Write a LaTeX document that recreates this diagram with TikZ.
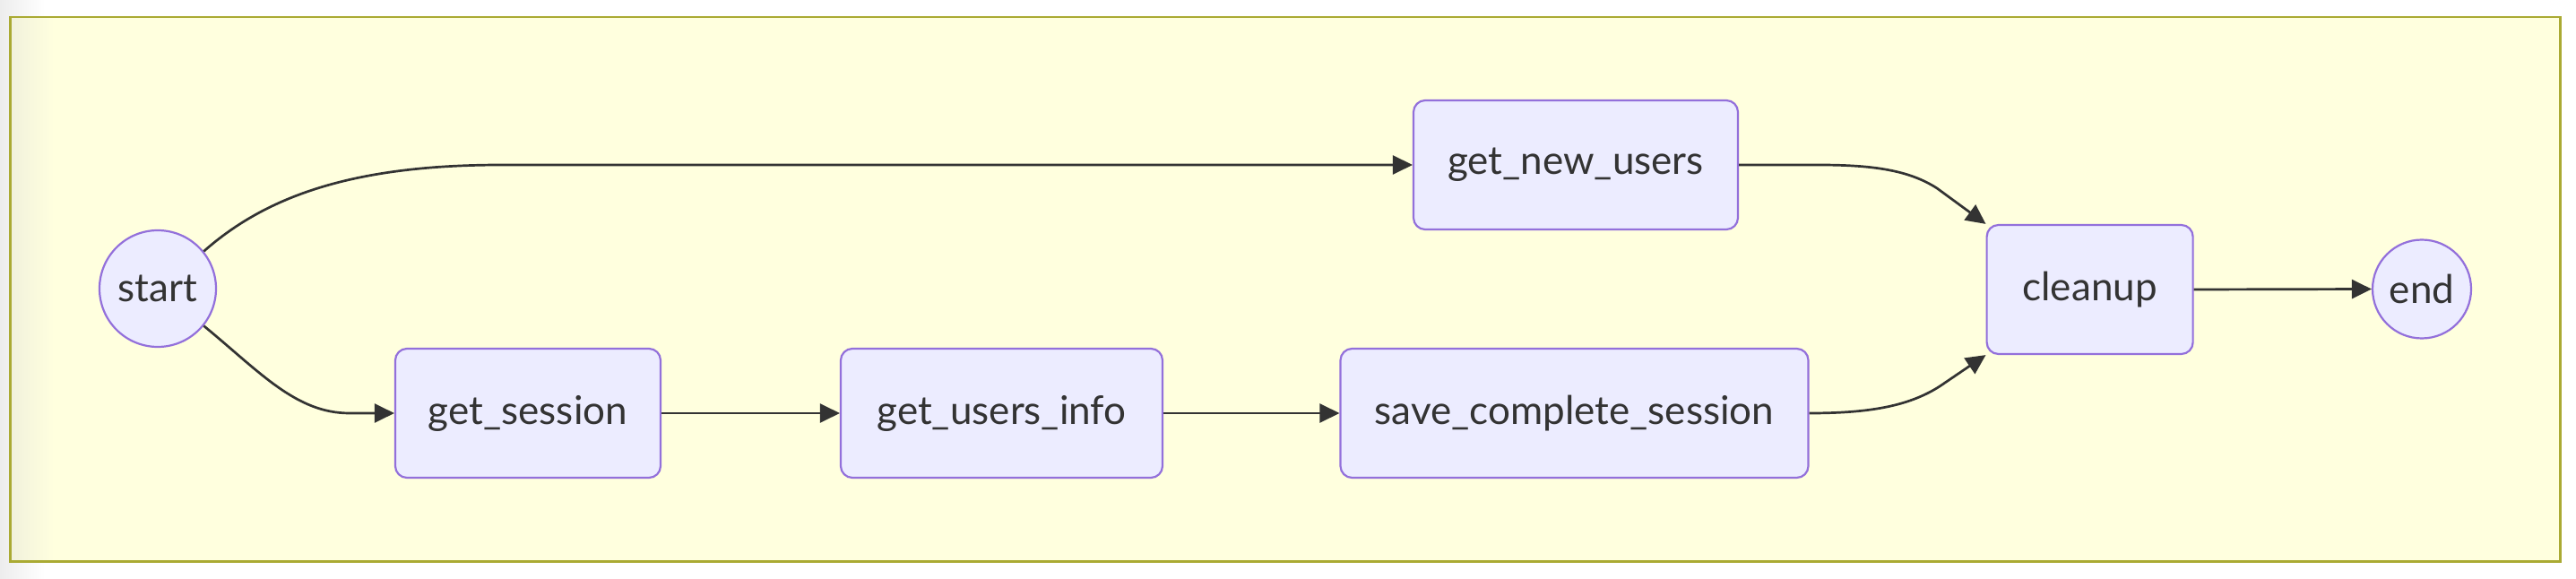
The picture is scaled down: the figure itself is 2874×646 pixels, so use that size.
\documentclass[tikz,border=0pt]{standalone}
\usepackage{fontspec}
\setmainfont{Lato}
\usetikzlibrary{arrows.meta}
\definecolor{nodefill}{HTML}{ECECFF}
\definecolor{nodeline}{HTML}{9370DB}
\definecolor{edgecol}{HTML}{333333}
\definecolor{txtcol}{HTML}{333333}
\definecolor{clusterfill}{HTML}{FFFFDE}
\definecolor{clusterline}{HTML}{AAAA33}
\definecolor{shadowgray}{HTML}{EDEDED}
\definecolor{clustershade}{HTML}{F1F1DC}
\tikzset{
  stbox/.style={draw=nodeline, fill=nodefill, line width=1.1pt, rounded corners=6.5pt,
    minimum height=72pt, inner sep=0pt, text=txtcol, font=\fontsize{22}{26}\selectfont},
  stcirc/.style={circle, draw=nodeline, fill=nodefill, line width=1.1pt, inner sep=0pt,
    text=txtcol, font=\fontsize{22}{26}\selectfont},
  edge/.style={draw=edgecol, line width=1.35pt, -{Triangle[length=11pt,width=10.5pt]}},
}
\begin{document}
\begin{tikzpicture}[x=0.5pt,y=-0.5pt]
\useasboundingbox (0,0) rectangle (2874,646);
\fill[white] (0,0) rectangle (2874,646);
\shade[left color=shadowgray, right color=white] (0,0) rectangle (50,646);
% cluster
\fill[clusterfill] (11.3,19) rectangle (2856.3,626.3);
\shade[left color=clustershade, right color=clusterfill] (11.3,19) rectangle (60,626.3);
\draw[clusterline, line width=1.35pt] (11.3,19) rectangle (2856.3,626.3);
% nodes
\node[stcirc, minimum size=65pt] (start) at (176,322) {start};
\node[stcirc, minimum size=55pt] (end) at (2702,322.5) {end};
\node[stbox, minimum width=181pt] (gnu) at (1758,184) {get\_new\_users};
\node[stbox, minimum width=115pt] (cleanup) at (2331.6,323) {cleanup};
\node[stbox, minimum width=148pt] (gs) at (589,461) {get\_session};
\node[stbox, minimum width=179.5pt] (gui) at (1117.5,461) {get\_users\_info};
\node[stbox, minimum width=261pt] (scs) at (1756.5,461) {save\_complete\_session};
% bend coordinates
\coordinate (upflat) at (560,184);
\coordinate (lowflat) at (390,461);
\coordinate (gnuflat) at (2029,184);
\coordinate (gnubend) at (2161,210);
\coordinate (scsbend) at (2170,427);
% edges
\draw[edge] (start.39) .. controls (300,216) and (400,184) .. (upflat) -- (gnu.west);
\draw[edge] (start.-39) .. controls (290,415) and (330,461) .. (lowflat) -- (gs.west);
\draw[edge] (gs.east) -- (gui.west);
\draw[edge] (gui.east) -- (scs.west);
\draw[edge] (gnu.east) -- (gnuflat) .. controls (2090,184) and (2130,190) .. (gnubend) -- (cleanup.north west);
\draw[edge] (scs.east) .. controls (2090,461) and (2135,452) .. (scsbend) -- (cleanup.south west);
\draw[edge] (cleanup.east) -- (end.west);
\end{tikzpicture}
\end{document}
